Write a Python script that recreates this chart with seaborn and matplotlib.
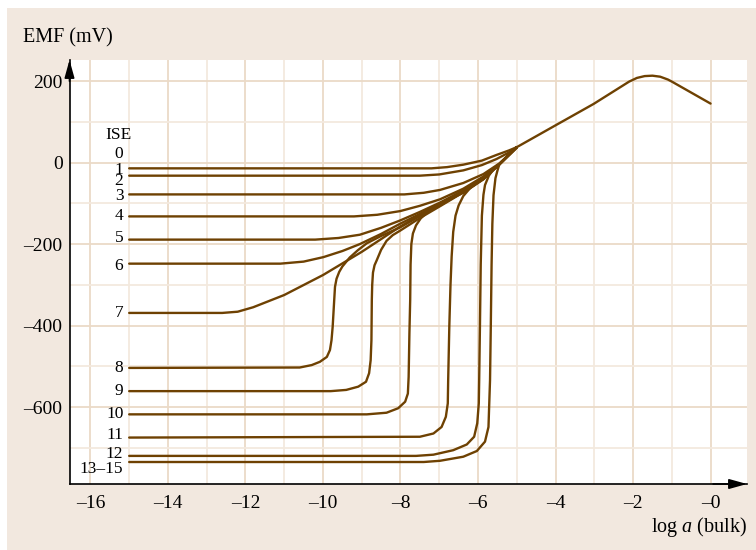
import pandas as pd
import numpy as np
import matplotlib
matplotlib.use('Agg')
import matplotlib.pyplot as plt
import seaborn as sns
from matplotlib.patches import Rectangle
from matplotlib.ticker import MultipleLocator

# ISE labels (0 has no separate line, it sits on top of 1)
ise_labels = ['0', '1', '2', '3', '4', '5', '6', '7', '8', '9', '10', '11', '12', '13–15']

# log a (bulk) and EMF (mV), each curve up to where the bundle merges
loga_1 = [-15, -7.2, -6.8, -6.38, -5.9, -5.52, -5.2, -5.0]
emf_1 = [-14, -14, -11, -5, 5, 19, 30, 38]
loga_2 = [-15, -7.5, -7.0, -6.38, -5.9, -5.52, -5.2, -5.0]
emf_2 = [-32, -32, -29, -19, -6, 9, 25, 38]
loga_3 = [-15, -7.9, -7.4, -6.98, -6.38, -5.86, -5.45, -5.0]
emf_3 = [-78, -78, -74, -67, -50, -28, -2, 38]
loga_4 = [-15, -9.2, -8.6, -8.01, -7.5, -6.98, -6.38, -5.86, -5.45, -5.0]
emf_4 = [-132, -132, -128, -119, -106, -90, -64, -34, -4, 38]
loga_5 = [-15, -10.2, -9.6, -9.05, -8.5, -8.01, -7.5, -6.98, -6.38, -5.86, -5.45, -5.0]
emf_5 = [-189, -189, -185, -177, -160, -142, -121, -98, -68, -36, -4, 38]
loga_6 = [-15, -11.1, -10.5, -9.99, -9.5, -9.05, -8.5, -8.01, -7.5, -6.98, -6.38, -5.86, -5.45, -5.0]
emf_6 = [-248, -248, -243, -232, -217, -200, -175, -150, -126, -102, -70, -37, -4, 38]
loga_7 = [-15, -12.6, -12.2, -11.8, -11.0, -10.0, -9.0, -8.01, -7.5, -6.98, -6.38, -5.86, -5.45, -5.0]
emf_7 = [-369, -369, -366, -355, -325, -276, -219, -157, -129, -104, -71, -38, -4, 38]
loga_8 = [-15, -10.6, -10.29, -10.08, -9.9, -9.82, -9.78, -9.75, -9.73, -9.71, -9.69, -9.65,
          -9.58, -9.5, -9.31, -9.1, -8.87, -8.5, -8.01, -7.5, -6.98, -6.38, -5.86, -5.45, -5.0]
emf_8 = [-504, -503, -497, -489, -477, -460, -436, -403, -370, -337, -305, -285,
         -268, -255, -233, -215, -198, -180, -159, -131, -105, -72, -39, -4, 38]
loga_9 = [-15, -9.8, -9.4, -9.09, -8.89, -8.81, -8.77, -8.75, -8.74, -8.73, -8.71, -8.67,
          -8.61, -8.5, -8.36, -8.2, -8.01, -7.5, -6.98, -6.38, -5.86, -5.45, -5.0]
emf_9 = [-561, -561, -558, -550, -538, -517, -485, -436, -337, -300, -270, -252,
         -239, -214, -192, -178, -167, -136, -107, -73, -40, -4, 38]
loga_10 = [-15, -8.87, -8.36, -8.06, -7.88, -7.81, -7.79, -7.77, -7.75, -7.74, -7.72, -7.68,
           -7.6, -7.48, -7.3, -7.1, -6.85, -6.38, -5.86, -5.45, -5.0]
emf_10 = [-618, -618, -614, -603, -587, -567, -526, -419, -337, -250, -200, -174,
          -154, -137, -121, -108, -95, -74, -41, -4, 38]
loga_11 = [-15, -7.5, -7.15, -6.94, -6.83, -6.78, -6.77, -6.74, -6.71, -6.68, -6.64, -6.58,
           -6.5, -6.38, -6.2, -6.0, -5.86, -5.45, -5.0]
emf_11 = [-675, -673, -665, -649, -624, -591, -534, -400, -300, -230, -170, -130,
          -105, -82, -62, -48, -40, -4, 38]
loga_12 = [-15, -7.6, -7.15, -6.64, -6.29, -6.1, -6.02, -5.98, -5.97, -5.95, -5.93, -5.9,
           -5.86, -5.82, -5.72, -5.6, -5.45, -5.0]
emf_12 = [-720, -720, -717, -706, -692, -673, -640, -591, -534, -400, -250, -130,
          -79, -55, -32, -16, -4, 38]
loga_13 = [-15, -7.4, -6.98, -6.38, -6.03, -5.82, -5.73, -5.71, -5.69, -5.67, -5.65, -5.63,
           -5.6, -5.55, -5.5, -5.45, -5.0]
emf_13 = [-735, -735, -732, -722, -708, -685, -649, -591, -534, -400, -250, -150,
          -80, -38, -20, -4, 38]

# shared part after the merge point
loga_common = [-5.0, -4.03, -3.02, -2.1, -1.9, -1.7, -1.5, -1.3, -1.1, -1.0, 0.0]
emf_common = [38, 90, 144, 199, 208, 212.5, 213.5, 211, 204, 199, 145]

curve_loga = [loga_1, loga_2, loga_3, loga_4, loga_5, loga_6, loga_7,
              loga_8, loga_9, loga_10, loga_11, loga_12, loga_13]
curve_emf = [emf_1, emf_2, emf_3, emf_4, emf_5, emf_6, emf_7,
             emf_8, emf_9, emf_10, emf_11, emf_12, emf_13]

xticks = [-16, -14, -12, -10, -8, -6, -4, -2, 0]
xtick_labels = ['–16', '–14', '–12', '–10', '–8', '–6', '–4', '–2', '–0']
yticks = [-600, -400, -200, 0, 200]
ytick_labels = ['–600', '–400', '–200', '0', '200']

# label nudges (mV) relative to the plateau of each line, layout only
label_nudge = [35, -4, -13, -5, 0, 3, -5, 1, 0, 0, 2, 6, 4, -18]

# build long table
rows = []
for k, (xs, ys) in enumerate(zip(curve_loga, curve_emf)):
    for i, (xv, yv) in enumerate(zip(xs, ys)):
        rows.append({'loga': xv, 'emf': yv, 'ise': 'c%d' % (k + 1), 'order': i})
for i, (xv, yv) in enumerate(zip(loga_common, emf_common)):
    rows.append({'loga': xv, 'emf': yv, 'ise': 'common', 'order': i})
df = pd.DataFrame(rows)

sns.set_theme(style='white')
plt.rcParams['font.family'] = ['Liberation Serif', 'DejaVu Serif']
plt.rcParams['mathtext.fontset'] = 'custom'
plt.rcParams['mathtext.rm'] = 'Liberation Serif'
plt.rcParams['mathtext.it'] = 'Liberation Serif:italic'
plt.rcParams['text.color'] = 'black'
plt.rcParams['xtick.color'] = 'black'
plt.rcParams['ytick.color'] = 'black'

bg = '#f2e8df'
line_col = '#6e4102'

fig = plt.figure(figsize=(7.56, 5.5), dpi=100, facecolor='white')
fig.patches.append(Rectangle((7 / 756, 0), 1, 1 - 8 / 550, transform=fig.transFigure,
                             facecolor=bg, edgecolor='none', zorder=-10))

ax = fig.add_axes([69.5 / 756, 1 - 484 / 550, (747 - 69.5) / 756, (484 - 60) / 550])
ax.set_facecolor('white')

sns.lineplot(data=df, x='loga', y='emf', units='ise', estimator=None, sort=False,
             color=line_col, lw=1.7, ax=ax, legend=False)
for ln in ax.get_lines():
    ln.set_solid_joinstyle('round')

ax.set_xlim(-16.54, 0.94)
ax.set_ylim(-789, 252)

ax.set_xticks(xticks)
ax.set_xticklabels(xtick_labels)
ax.set_yticks(yticks)
ax.set_yticklabels(ytick_labels)
ax.xaxis.set_minor_locator(MultipleLocator(1))
ax.yaxis.set_minor_locator(MultipleLocator(100))
ax.tick_params(which='both', length=0)
ax.tick_params(axis='x', labelsize=14, pad=8)
ax.tick_params(axis='y', labelsize=14, pad=5)
ax.set_xlabel('')
ax.set_ylabel('')

ax.set_axisbelow(True)
ax.grid(which='major', color='#ebdac7', lw=1.3)
ax.grid(which='minor', color='#f3e9de', lw=1.3)

for s in ['top', 'right']:
    ax.spines[s].set_visible(False)
for s in ['left', 'bottom']:
    ax.spines[s].set_color('black')
    ax.spines[s].set_linewidth(1.2)

# axis arrows
ax.annotate('', xy=(0, 1.0), xytext=(0, 0.95), xycoords='axes fraction',
            arrowprops=dict(arrowstyle='-|>,head_length=0.9,head_width=0.25',
                            color='black', lw=1.2, shrinkA=0, shrinkB=0), annotation_clip=False)
ax.annotate('', xy=(1.0, 0), xytext=(0.95, 0), xycoords='axes fraction',
            arrowprops=dict(arrowstyle='-|>,head_length=0.9,head_width=0.25',
                            color='black', lw=1.2, shrinkA=0, shrinkB=0), annotation_clip=False)

# ISE labels
ax.text(-15.27, 68, 'ISE', ha='center', va='center', fontsize=12.5)
levels = [emf_1[0]] + [e[0] for e in curve_emf]
for lab, lev, nud in zip(ise_labels, levels, label_nudge):
    ax.text(-15.15, lev + nud, lab, ha='right', va='center', fontsize=12.5)

fig.text(22.7 / 756, 1 - 38 / 550, 'EMF (mV)', ha='left', va='center', fontsize=14.5)
fig.text(747 / 756, 1 - 527 / 550, r'log $\mathit{a}$ (bulk)', ha='right', va='center', fontsize=14.5)

fig.savefig('out.png', dpi=100, facecolor='white')
